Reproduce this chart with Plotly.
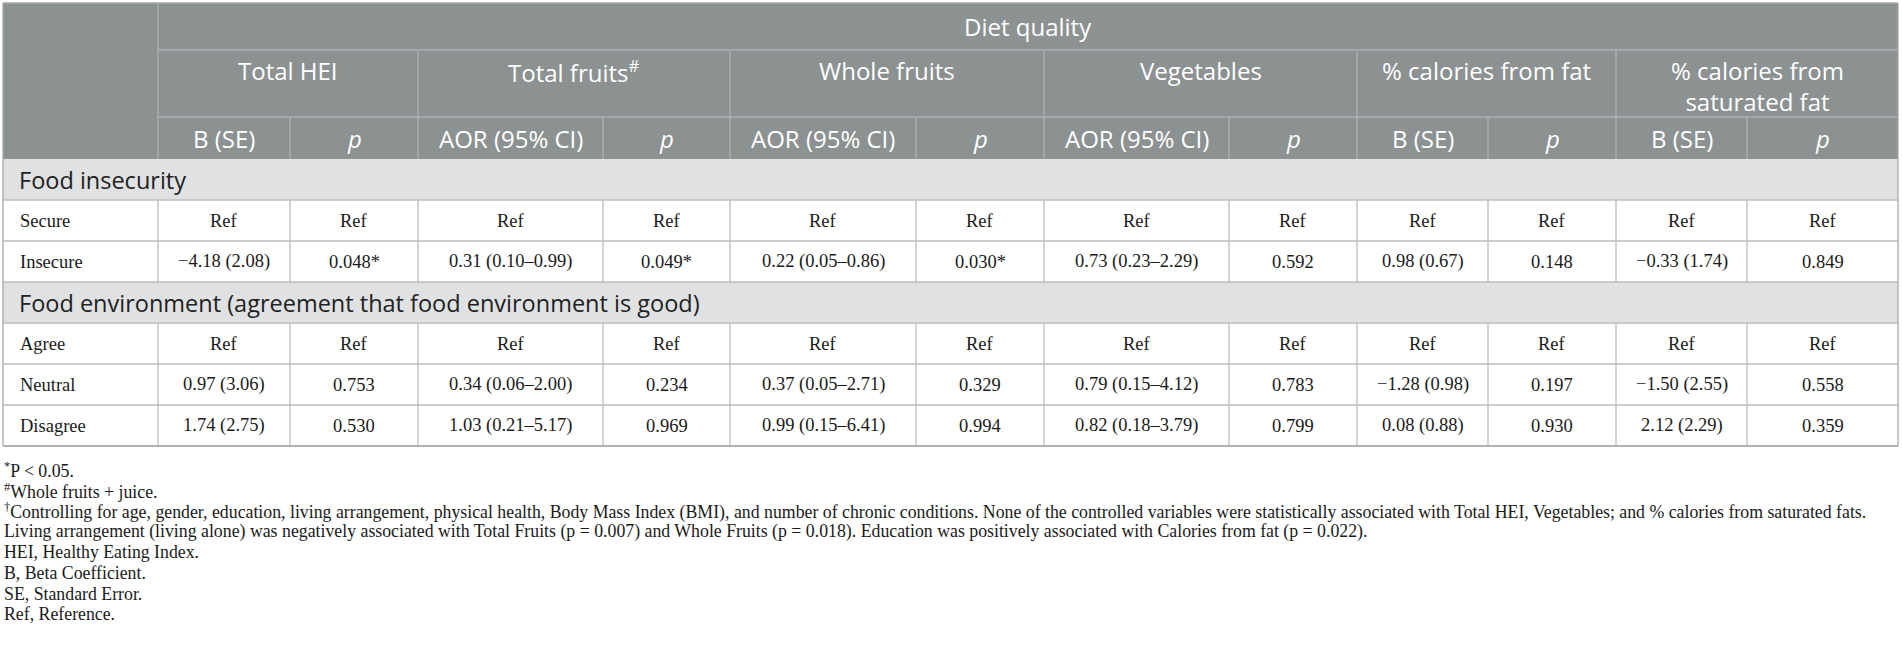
import plotly.graph_objects as go

# ---- table content ----
top_header = "Diet quality"
groups = ["Total HEI", "Total fruits<sup>#</sup>", "Whole fruits", "Vegetables",
          "% calories from fat", "% calories from<br>saturated fat"]
stat_labels = ["B (SE)", "<i>p</i>", "AOR (95% CI)", "<i>p</i>", "AOR (95% CI)", "<i>p</i>",
               "AOR (95% CI)", "<i>p</i>", "B (SE)", "<i>p</i>", "B (SE)", "<i>p</i>"]

section_1 = "Food insecurity"
secure = ["Ref"] * 12
insecure = ["−4.18 (2.08)", "0.048*", "0.31 (0.10–0.99)", "0.049*", "0.22 (0.05–0.86)", "0.030*",
            "0.73 (0.23–2.29)", "0.592", "0.98 (0.67)", "0.148", "−0.33 (1.74)", "0.849"]

section_2 = "Food environment (agreement that food environment is good)"
agree = ["Ref"] * 12
neutral = ["0.97 (3.06)", "0.753", "0.34 (0.06–2.00)", "0.234", "0.37 (0.05–2.71)", "0.329",
           "0.79 (0.15–4.12)", "0.783", "−1.28 (0.98)", "0.197", "−1.50 (2.55)", "0.558"]
disagree = ["1.74 (2.75)", "0.530", "1.03 (0.21–5.17)", "0.969", "0.99 (0.15–6.41)", "0.994",
            "0.82 (0.18–3.79)", "0.799", "0.08 (0.88)", "0.930", "2.12 (2.29)", "0.359"]

body = [
    ("section", section_1, None),
    ("row", "Secure", secure),
    ("row", "Insecure", insecure),
    ("section", section_2, None),
    ("row", "Agree", agree),
    ("row", "Neutral", neutral),
    ("row", "Disagree", disagree),
]

footnotes = [
    "<sup>*</sup>P < 0.05.",
    "<sup>#</sup>Whole fruits + juice.",
    "<sup>†</sup>Controlling for age, gender, education, living arrangement, physical health, Body Mass Index (BMI), "
    "and number of chronic conditions. None of the controlled variables were statistically associated with Total HEI, "
    "Vegetables; and % calories from saturated fats.",
    "Living arrangement (living alone) was negatively associated with Total Fruits (p = 0.007) and Whole Fruits "
    "(p = 0.018). Education was positively associated with Calories from fat (p = 0.022).",
    "HEI, Healthy Eating Index.",
    "B, Beta Coefficient.",
    "SE, Standard Error.",
    "Ref, Reference.",
]

# ---- layout geometry (pixels) ----
W, H = 1902, 655
col_edges = [3, 158, 290, 418, 603, 730, 916, 1044, 1229, 1357, 1488, 1616, 1747, 1898]
hdr_edges = [3, 50, 117, 159]
row_h = 41.0
foot_y0, foot_dy = 470, 20.6

HDR_BG = "#8c9192"
HDR_LINE = "#aeb2b3"
BAND_BG = "#dfe1e2"
GRID = "#bdbdbd"
SANS = "Open Sans"
SERIF = "Liberation Serif"
TXT = "#1a1a1a"

fig = go.Figure()
shapes = []
ann = []


def rect(x0, y0, x1, y1, fill):
    shapes.append(dict(type="rect", xref="x", yref="y", x0=x0, y0=y0, x1=x1, y1=y1,
                       fillcolor=fill, line=dict(width=0), layer="below"))


def line(x0, y0, x1, y1, color, w=1.3):
    shapes.append(dict(type="line", xref="x", yref="y", x0=x0, y0=y0, x1=x1, y1=y1,
                       line=dict(color=color, width=w)))


def text(x, y, s, font, size, color, xanchor="center", yanchor="middle"):
    ann.append(dict(x=x, y=y, xref="x", yref="y", text=s, showarrow=False,
                    xanchor=xanchor, yanchor=yanchor,
                    font=dict(family=font, size=size, color=color)))


left, right = col_edges[0], col_edges[-1]
hdr_top, hdr_bot = hdr_edges[0], hdr_edges[-1]

# header block
rect(left, hdr_top, right, hdr_bot, HDR_BG)
line(col_edges[1], hdr_top, col_edges[1], hdr_bot, HDR_LINE)
line(col_edges[1], hdr_edges[1], right, hdr_edges[1], HDR_LINE)
line(col_edges[1], hdr_edges[2], right, hdr_edges[2], HDR_LINE)
text((col_edges[1] + right) / 2, (hdr_edges[0] + hdr_edges[1]) / 2, top_header, SANS, 24, "white")

for g, name in enumerate(groups):
    x0, x1 = col_edges[1 + 2 * g], col_edges[3 + 2 * g]
    if g > 0:
        line(x0, hdr_edges[1], x0, hdr_bot, HDR_LINE)
    text((x0 + x1) / 2, hdr_edges[1] + 2, name, SANS, 24, "white", yanchor="top")

for c, lab in enumerate(stat_labels):
    x0, x1 = col_edges[1 + c], col_edges[2 + c]
    if c % 2 == 1:
        line(x0, hdr_edges[2], x0, hdr_bot, HDR_LINE)
    text((x0 + x1) / 2, (hdr_edges[2] + hdr_bot) / 2, lab, SANS, 24, "white")

# body
y = hdr_bot
for kind, label, vals in body:
    y0, y1 = y, y + row_h
    if kind == "section":
        rect(left, y0, right, y1, BAND_BG)
        text(left + 14, (y0 + y1) / 2, label, SANS, 23.5, "#222222", xanchor="left")
    else:
        for xe in col_edges[1:-1]:
            line(xe, y0, xe, y1, GRID)
        text(left + 15, (y0 + y1) / 2, label, SERIF, 18.5, TXT, xanchor="left")
        for c, v in enumerate(vals):
            cx = (col_edges[1 + c] + col_edges[2 + c]) / 2
            text(cx, (y0 + y1) / 2, v, SERIF, 18.5, TXT)
    line(left, y1, right, y1, GRID)
    y = y1

table_bot = y
# outer border
line(left, hdr_top, right, hdr_top, "#a8a8a8")
line(left, hdr_top, left, table_bot, "#a8a8a8")
line(right, hdr_top, right, table_bot, "#a8a8a8")
line(left, table_bot, right, table_bot, "#a8a8a8", 1.6)

# footnotes
for i, f in enumerate(footnotes):
    text(2, foot_y0 + i * foot_dy, f, SERIF, 17.8, TXT, xanchor="left")

# invisible anchor trace so the axes exist
fig.add_trace(go.Scatter(x=[0, W], y=[0, H], mode="markers", marker=dict(opacity=0),
                         hoverinfo="skip", showlegend=False))

fig.update_layout(
    width=W, height=H,
    margin=dict(l=0, r=0, t=0, b=0),
    paper_bgcolor="white", plot_bgcolor="white",
    shapes=shapes, annotations=ann,
    xaxis=dict(range=[0, W], visible=False, fixedrange=True),
    yaxis=dict(range=[H, 0], visible=False, fixedrange=True),
    showlegend=False,
)

fig.write_html("out.html", config={"displayModeBar": False},
               post_script="document.body.style.margin='0';document.body.style.overflow='hidden';")
